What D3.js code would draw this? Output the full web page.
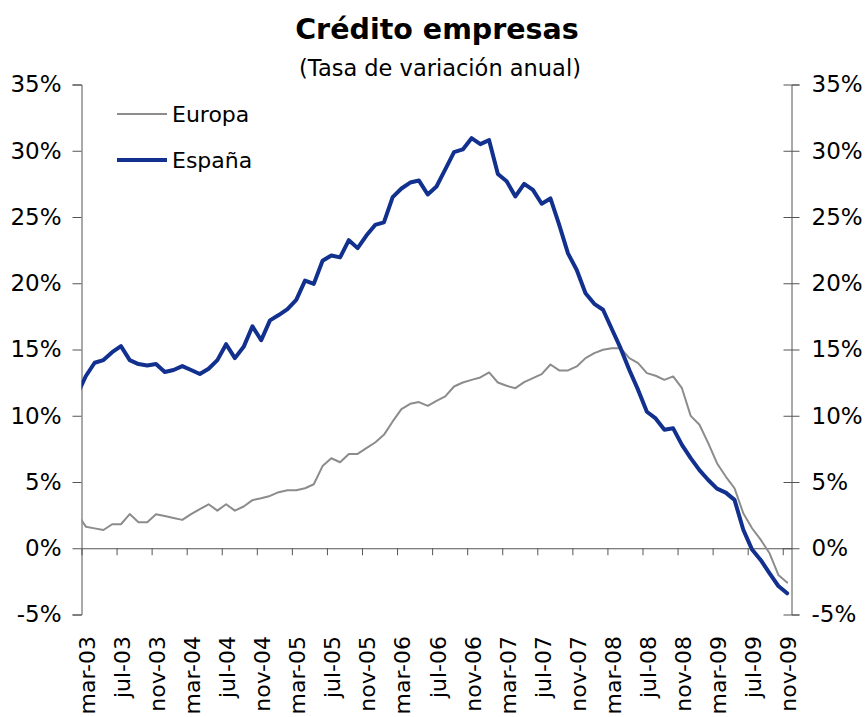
<!DOCTYPE html>
<html>
<head>
<meta charset="utf-8">
<script src="https://cdn.jsdelivr.net/npm/d3@7"></script>
<style>
  html, body { margin: 0; padding: 0; background: #fff; }
  svg { display: block; font-family: "DejaVu Sans", Verdana, sans-serif; }
</style>
</head>
<body>
<svg id="chart" width="865" height="717"></svg>
<script>
// Month abbreviations used on the category axis
const monthNames = ["ene", "feb", "mar", "abr", "may", "jun", "jul", "ago", "sep", "oct", "nov", "dic"];

// Series start in feb-03 (the first value sits just left of the axis and is clipped); axis starts mar-03
const firstYear = 2003;
const firstMonth = 1; // feb (0-based)

// Annual growth rate of credit to companies, %
const europa = [
  2.60,
  1.63, 1.50, 1.38, 1.81, 1.81, 2.58, 1.97, 1.97, 2.57, 2.44, 2.29, 2.14,
  2.57, 2.95, 3.32, 2.84, 3.32, 2.84, 3.15, 3.63, 3.78, 3.95, 4.23, 4.38,
  4.38, 4.53, 4.83, 6.20, 6.79, 6.49, 7.12, 7.12, 7.55, 7.98, 8.56, 9.57,
  10.50, 10.90, 11.03, 10.75, 11.13, 11.46, 12.21, 12.51, 12.71, 12.89, 13.27, 12.51,
  12.26, 12.08, 12.54, 12.84, 13.14, 13.87, 13.42, 13.42, 13.72, 14.35, 14.73, 14.98,
  15.10, 15.10, 14.35, 13.97, 13.22, 13.02, 12.71, 12.97, 12.08, 9.99, 9.32, 7.93,
  6.42, 5.41, 4.53, 2.64, 1.51, 0.63, -0.38, -2.01, -2.59
];

const espana = [
  11.60,
  13.00, 14.00, 14.20, 14.80, 15.25, 14.20, 13.90, 13.80, 13.90, 13.30, 13.45, 13.75,
  13.45, 13.15, 13.55, 14.20, 15.40, 14.35, 15.20, 16.75, 15.70, 17.20, 17.60, 18.05,
  18.75, 20.20, 19.95, 21.70, 22.10, 21.95, 23.25, 22.65, 23.60, 24.40, 24.60, 26.50,
  27.15, 27.60, 27.75, 26.70, 27.30, 28.60, 29.90, 30.10, 30.95, 30.50, 30.80, 28.25,
  27.70, 26.55, 27.50, 27.05, 26.00, 26.40, 24.40, 22.25, 21.00, 19.25, 18.45, 18.00,
  16.55, 15.10, 13.45, 11.95, 10.30, 9.80, 8.95, 9.05, 7.80, 6.80, 5.90, 5.15,
  4.50, 4.20, 3.65, 1.40, -0.10, -0.90, -1.90, -2.85, -3.40
];

const yTicks = [-5, 0, 5, 10, 15, 20, 25, 30, 35];
const labelEvery = 4;

const series = [
  { name: "Europa", values: europa, color: "#8c8c8c", width: 2 },
  { name: "España", values: espana, color: "#12308e", width: 4 }
];

// Month labels like "mar-03"
const months = europa.map((_, i) => {
  const m = firstMonth + i;
  const yr = firstYear + Math.floor(m / 12);
  return monthNames[m % 12] + "-" + String(yr % 100).padStart(2, "0");
});

const svg = d3.select("#chart");
const plot = { left: 81.5, right: 791.5, top: 84.5, bottom: 614.5 };

// Month index 1 (mar-03) starts the axis; the axis ends after the last month
const x = d3.scaleLinear().domain([1, months.length]).range([plot.left, plot.right]);
const xc = i => x(i + 0.5);
const y = d3.scaleLinear().domain([-5, 35]).range([plot.bottom, plot.top]);

const axisColor = "#555";
const pct = d => d + "%";

// Title
svg.append("text")
  .attr("x", 437).attr("y", 39)
  .attr("text-anchor", "middle")
  .attr("font-size", 28.5).attr("font-weight", "bold")
  .text("Crédito empresas");
svg.append("text")
  .attr("x", 440).attr("y", 76)
  .attr("text-anchor", "middle")
  .attr("font-size", 22.5)
  .text("(Tasa de variación anual)");

// Left axis
const leftAxis = d3.axisLeft(y).tickValues(yTicks).tickFormat(pct).tickSize(9).tickPadding(11);
const gL = svg.append("g").attr("transform", `translate(${plot.left},0)`).call(leftAxis);

// Right axis (ticks cross the line)
const rightAxis = d3.axisRight(y).tickValues(yTicks).tickFormat(pct).tickSize(8).tickPadding(12);
const gR = svg.append("g").attr("transform", `translate(${plot.right},0)`).call(rightAxis);
gR.selectAll(".tick line").attr("x1", -8);

[gL, gR].forEach(g => {
  g.select(".domain").attr("stroke", axisColor);
  g.selectAll(".tick line").attr("stroke", axisColor);
  g.selectAll(".tick text").attr("font-size", 23).attr("fill", "#000")
    .attr("font-family", "DejaVu Sans, Verdana, sans-serif");
});

// Category axis along the zero line
const tickIdx = d3.range(1, months.length, labelEvery);
const xAxis = d3.axisBottom(x).tickValues(tickIdx).tickFormat("").tickSize(7).tickSizeOuter(0);
const gX = svg.append("g").attr("transform", `translate(0,${y(0)})`).call(xAxis);
gX.select(".domain").attr("stroke", axisColor);
gX.selectAll(".tick line").attr("stroke", axisColor);

// Rotated month labels
svg.append("g").selectAll("text")
  .data(tickIdx)
  .join("text")
  .attr("transform", i => `translate(${x(i) + 5.5},636) rotate(-90)`)
  .attr("text-anchor", "end")
  .attr("dy", "0.36em")
  .attr("font-size", 22)
  .text(i => months[i]);

// Lines, clipped to the plot area
svg.append("clipPath").attr("id", "plotClip")
  .append("rect")
  .attr("x", plot.left).attr("y", 0)
  .attr("width", plot.right - plot.left).attr("height", 717);

const line = d3.line().x((d, i) => xc(i)).y(d => y(d));

svg.append("g").attr("clip-path", "url(#plotClip)")
  .selectAll("path")
  .data(series)
  .join("path")
  .attr("d", s => line(s.values))
  .attr("fill", "none")
  .attr("stroke", s => s.color)
  .attr("stroke-width", s => s.width)
  .attr("stroke-linejoin", "round")
  .attr("stroke-linecap", "round");

// Legend
const legend = svg.append("g");
series.forEach((s, k) => {
  const ly = 114 + k * 46;
  legend.append("line")
    .attr("x1", 117).attr("x2", 167)
    .attr("y1", ly).attr("y2", ly)
    .attr("stroke", s.color).attr("stroke-width", s.width);
  legend.append("text")
    .attr("x", 172).attr("y", ly).attr("dy", "0.36em")
    .attr("font-size", 22)
    .text(s.name);
});
</script>
</body>
</html>
